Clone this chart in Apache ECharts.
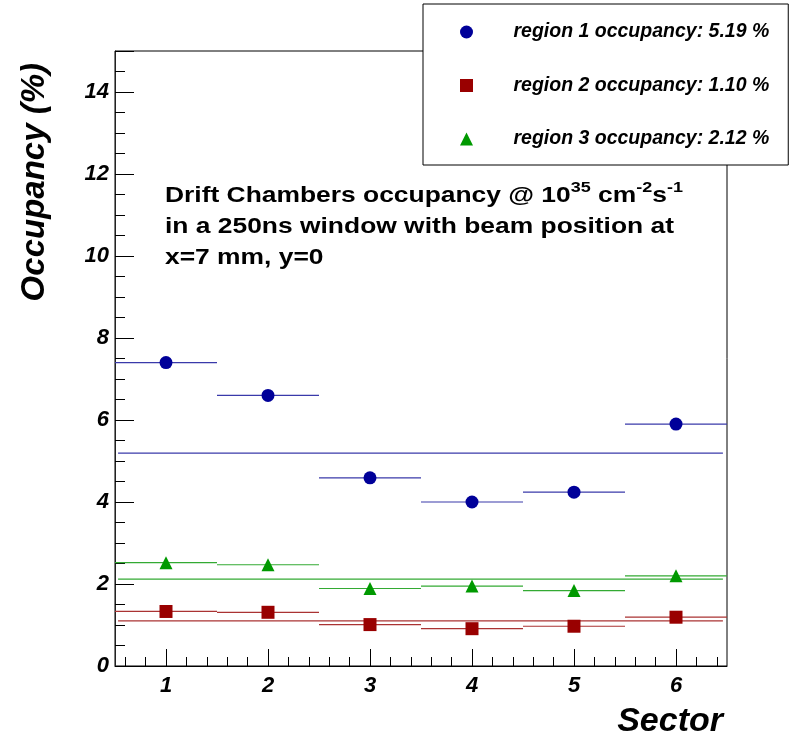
<!DOCTYPE html>
<html>
<head>
<meta charset="utf-8">
<script src="https://cdn.jsdelivr.net/npm/echarts@6/dist/echarts.min.js"></script>
<style>
html,body{margin:0;padding:0;background:#fff;}
#chart{width:790px;height:738px;}
</style>
</head>
<body>
<div id="chart"></div>
<script>
// ---- data ----
const sectors = [1, 2, 3, 4, 5, 6];
const sectorLabels = ['1', '2', '3', '4', '5', '6'];
const region1 = [7.40, 6.60, 4.59, 4.00, 4.24, 5.90];
const region2 = [1.33, 1.31, 1.01, 0.91, 0.97, 1.19];
const region3 = [2.52, 2.47, 1.89, 1.95, 1.84, 2.20];
const regionMeans = [5.19, 1.10, 2.12];
const regionNames = ['region 1 occupancy: 5.19 %', 'region 2 occupancy: 1.10 %', 'region 3 occupancy: 2.12 %'];
const binHalfWidth = 0.5;
const meanSpan = [0.53, 6.46];
const yTickValues = [0, 2, 4, 6, 8, 10, 12, 14];
const minorXTicks = ['0.6','0.8','1.0','1.2','1.4','1.6','1.8','2.0','2.2','2.4','2.6','2.8','3.0','3.2','3.4','3.6','3.8','4.0','4.2','4.4','4.6','4.8','5.0','5.2','5.4','5.6','5.8','6.0','6.2','6.4'];

const FONT = 'Liberation Sans';
const colors = ['#000099', '#990000', '#009900'];
const barColors = ['#3a3aaa', '#aa3333', '#33aa33'];
const symbols = ['circle', 'rect', 'triangle'];
const regions = [region1, region2, region3];

const chart = echarts.init(document.getElementById('chart'));

const series = [];
regions.forEach((vals, r) => {
  const pts = sectors.map((s, i) => [s, vals[i]]);
  series.push({
    name: 'bars' + r,
    type: 'custom',
    xAxisIndex: 0, yAxisIndex: 0,
    silent: true,
    z: 3,
    data: pts,
    renderItem: (params, api) => {
      const x = api.value(0), y = api.value(1);
      const p1 = api.coord([x - binHalfWidth, y]);
      const p2 = api.coord([x + binHalfWidth, y]);
      return { type: 'line', shape: { x1: p1[0], y1: p1[1], x2: p2[0], y2: p2[1] },
               style: { stroke: barColors[r], lineWidth: 1.2 } };
    }
  });
  series.push({
    name: 'mean' + r,
    type: 'line',
    xAxisIndex: 0, yAxisIndex: 0,
    silent: true,
    symbol: 'none',
    z: 3,
    lineStyle: { color: barColors[r], width: 1.2 },
    data: [[meanSpan[0], regionMeans[r]], [meanSpan[1], regionMeans[r]]]
  });
  series.push({
    name: regionNames[r],
    type: 'scatter',
    xAxisIndex: 0, yAxisIndex: 0,
    symbol: symbols[r],
    symbolSize: 13,
    z: 5,
    itemStyle: { color: colors[r], opacity: 1 },
    data: pts
  });
});

const labelStyle = { fontFamily: FONT, fontWeight: 'bold', fontStyle: 'italic', fontSize: 22, color: '#000' };

const option = {
  backgroundColor: '#fff',
  animation: false,
  grid: { left: 115, right: 63, top: 51, bottom: 72, show: true, borderColor: '#000', borderWidth: 1, backgroundColor: 'transparent' },
  xAxis: [
    { type: 'value', min: 0.5, max: 6.5, show: false },
    { type: 'category', data: minorXTicks, boundaryGap: true, position: 'bottom',
      axisLine: { show: true, lineStyle: { color: '#000', width: 1 } },
      axisTick: { show: true, inside: true, length: 9, alignWithLabel: true, interval: 0, lineStyle: { color: '#000' } },
      axisLabel: { show: false }, splitLine: { show: false } },
    { type: 'category', data: sectorLabels, boundaryGap: true, position: 'bottom',
      axisLine: { show: false },
      axisTick: { show: true, inside: true, length: 17, alignWithLabel: true, interval: 0, lineStyle: { color: '#000' } },
      axisLabel: Object.assign({ interval: 0, margin: 9 }, labelStyle), splitLine: { show: false } }
  ],
  yAxis: [
    { type: 'value', min: 0, max: 15, interval: 2, position: 'left',
      axisLine: { show: true, lineStyle: { color: '#222', width: 1 } },
      axisTick: { show: true, inside: true, length: 19, lineStyle: { color: '#000' } },
      axisLabel: Object.assign({ margin: 6, formatter: v => (yTickValues.indexOf(v) >= 0 ? String(v) : '') }, labelStyle),
      splitLine: { show: false } },
    { type: 'value', min: 0, max: 15, interval: 0.5, position: 'left',
      axisLine: { show: false },
      axisTick: { show: true, inside: true, length: 10, lineStyle: { color: '#000' } },
      axisLabel: { show: false }, splitLine: { show: false } }
  ],
  legend: {
    data: regionNames.map((n, r) => ({ name: n, icon: symbols[r] })),
    orient: 'vertical',
    left: 423, top: 4,
    padding: [18, 19, 16, 37],
    itemGap: 33.5,
    itemWidth: 13, itemHeight: 13,
    borderColor: '#000', borderWidth: 1,
    backgroundColor: '#fff',
    z: 20,
    formatter: name => '{g|}{t|' + name + '}',
    textStyle: {
      fontFamily: FONT, fontWeight: 'bold', fontStyle: 'italic', fontSize: 19.5, color: '#000',
      rich: {
        g: { width: 35.5 },
        t: { fontFamily: FONT, fontWeight: 'bold', fontStyle: 'italic', fontSize: 19.5, color: '#000' }
      }
    }
  },
  graphic: [
    { type: 'text', x: 165, y: 180, scaleX: 1.2, z: 10,
      style: {
        text: '{a|Drift Chambers occupancy @ 10}{s|35}{a| cm}{s|-2}{a|s}{s|-1}\n{a|in a 250ns window with beam position at}\n{a|x=7 mm, y=0}',
        textVerticalAlign: 'top',
        rich: {
          a: { fontFamily: FONT, fontWeight: 'bold', fontSize: 22, lineHeight: 31, fill: '#000' },
          s: { fontFamily: FONT, fontWeight: 'bold', fontSize: 15, lineHeight: 16, verticalAlign: 'top', fill: '#000' }
        }
      } },
    { type: 'text', x: 35, y: 63, rotation: Math.PI / 2, z: 10,
      style: { text: 'Occupancy (%)', fontFamily: FONT, fontWeight: 'bold', fontStyle: 'italic', fontSize: 33,
               fill: '#000', textAlign: 'right', textVerticalAlign: 'middle' } },
    { type: 'text', x: 723, y: 722, z: 10,
      style: { text: 'Sector', fontFamily: FONT, fontWeight: 'bold', fontStyle: 'italic', fontSize: 34,
               fill: '#000', textAlign: 'right', textVerticalAlign: 'middle' } }
  ],
  series: series
};
chart.setOption(option);
</script>
</body>
</html>
